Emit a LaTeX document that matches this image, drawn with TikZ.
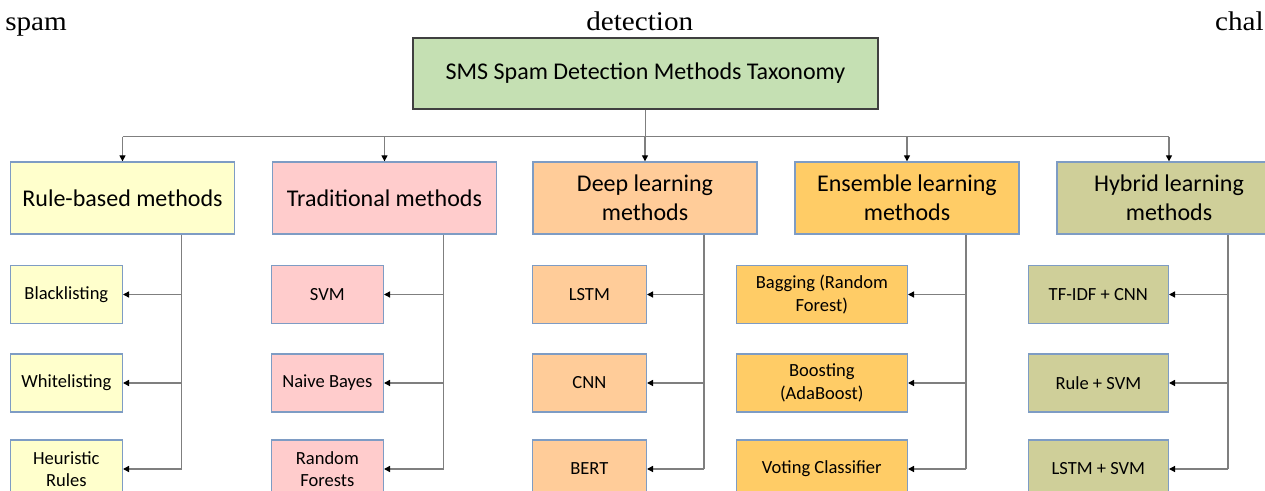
\documentclass[tikz,border=0pt]{standalone}
\usepackage{fontspec}
\setmainfont{Liberation Serif}
\newfontfamily\bodyfont[FakeStretch=1.08]{Liberation Serif}
\newfontfamily\calibri{Carlito}
\usetikzlibrary{arrows.meta,calc}

\definecolor{topfill}{HTML}{C5E0B3}
\definecolor{topline}{HTML}{404040}
\definecolor{rulefill}{HTML}{FFFFCC}
\definecolor{tradfill}{HTML}{FFCCCC}
\definecolor{deepfill}{HTML}{FFCC99}
\definecolor{ensfill}{HTML}{FFCC66}
\definecolor{hybfill}{HTML}{CFCF99}
\definecolor{boxline}{HTML}{7E9CC4}
\definecolor{wire}{HTML}{7F7F7F}

\begin{document}
\begin{tikzpicture}[x=0.75pt,y=-0.75pt,
  body/.style={inner sep=0pt, font=\bodyfont\fontsize{20.25}{24}\selectfont},
  titlebox/.style={draw=topline, fill=topfill, line width=1.1pt,
    minimum width=348.75pt, minimum height=53.25pt, inner sep=0pt,
    font=\calibri\fontsize{18}{21.6}\selectfont},
  catbox/.style={draw=boxline, line width=1pt, minimum width=168pt,
    minimum height=54pt, inner sep=0pt, align=center,
    font=\calibri\fontsize{18}{21.6}\selectfont},
  leafbox/.style={draw=boxline, line width=1pt, minimum height=43.5pt,
    inner sep=0pt, align=center, anchor=east,
    font=\calibri\fontsize{13.9}{16.7}\selectfont},
  wireline/.style={draw=wire, line width=1pt},
  wirearrow/.style={wireline, -{Triangle[length=4.5pt,width=4.5pt,color=black]}}
]
\useasboundingbox (0,0) rectangle (1265,491);
\clip (0,0) rectangle (1265,491);

% running text of the page above the figure
\node[body, anchor=base west] (w1) at (5,31) {spam};
\node[body, anchor=base west] (w2) at (586,31) {detection};
\node[body, anchor=base east] (w3) at (1264,31) {chal};

% root
\node[titlebox] (root) at (645.5,73.5) {SMS Spam Detection Methods Taxonomy};

% method families
\node[catbox, fill=rulefill] (c1) at (122.5,198) {Rule-based methods};
\node[catbox, fill=tradfill] (c2) at (384.5,198) {Traditional methods};
\node[catbox, fill=deepfill] (c3) at (645,198) {Deep learning\\methods};
\node[catbox, fill=ensfill]  (c4) at (907,198) {Ensemble learning\\methods};
\node[catbox, fill=hybfill]  (c5) at (1169,198) {Hybrid learning\\methods};

% individual methods
\node[leafbox, fill=rulefill, minimum width=84pt] (l11) at (123,294.5) {Blacklisting};
\node[leafbox, fill=rulefill, minimum width=84pt] (l12) at (123,383) {Whitelisting};
\node[leafbox, fill=rulefill, minimum width=84pt] (l13) at (123,469) {Heuristic\\Rules};

\node[leafbox, fill=tradfill, minimum width=84pt] (l21) at (384,294.5) {SVM};
\node[leafbox, fill=tradfill, minimum width=84pt] (l22) at (384,383) {Naive Bayes};
\node[leafbox, fill=tradfill, minimum width=84pt] (l23) at (384,469) {Random\\Forests};

\node[leafbox, fill=deepfill, minimum width=85.5pt] (l31) at (647,294.5) {LSTM};
\node[leafbox, fill=deepfill, minimum width=85.5pt] (l32) at (647,383) {CNN};
\node[leafbox, fill=deepfill, minimum width=85.5pt] (l33) at (647,469) {BERT};

\node[leafbox, fill=ensfill, minimum width=128.25pt] (l41) at (908,294.5) {Bagging (Random\\Forest)};
\node[leafbox, fill=ensfill, minimum width=128.25pt] (l42) at (908,383) {Boosting\\(AdaBoost)};
\node[leafbox, fill=ensfill, minimum width=128.25pt] (l43) at (908,469) {Voting Classifier};

\node[leafbox, fill=hybfill, minimum width=105pt] (l51) at (1169,294.5) {TF-IDF + CNN};
\node[leafbox, fill=hybfill, minimum width=105pt] (l52) at (1169,383) {Rule + SVM};
\node[leafbox, fill=hybfill, minimum width=105pt] (l53) at (1169,469) {LSTM + SVM};

% root to families
\coordinate (top) at ($(root.south)+(0,27)$);
\draw[wireline] (root.south) -- (top);
\draw[wireline] (top -| c1.north) -- (top -| c5.north);
\foreach \c in {c1,c2,c3,c4,c5}
  \draw[wirearrow] (top -| \c.north) -- (\c.north);

% families to methods
\foreach \i in {1,...,5} {
  \coordinate (b\i) at ($(c\i.south)+(59,0)$);
  \draw[wireline] (b\i) -- (b\i |- l\i3.east);
  \foreach \j in {1,2,3}
    \draw[wirearrow] (b\i |- l\i\j.east) -- (l\i\j.east);
}
\end{tikzpicture}
\end{document}
